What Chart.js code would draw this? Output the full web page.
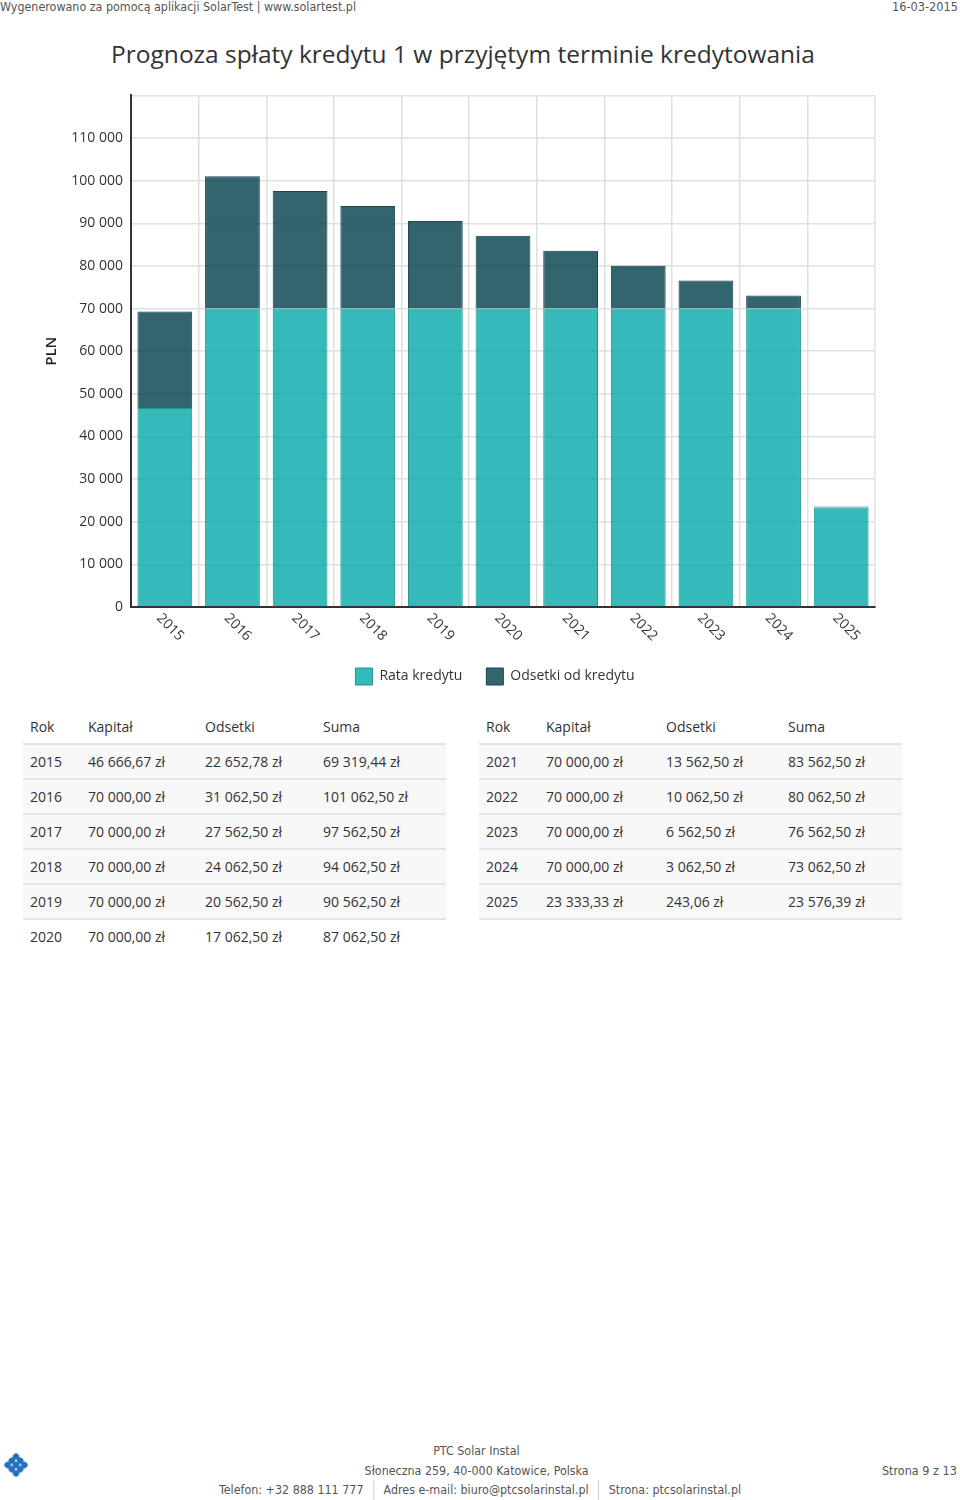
<!DOCTYPE html>
<html lang="pl">
<head>
    <meta charset="UTF-8">
    <title>Prognoza spłaty kredytu</title>
    <script src="https://cdn.jsdelivr.net/npm/chart.js@4.4.1/dist/chart.umd.min.js"></script>
    <style>
        body { margin: 0; width: 960px; height: 1500px; position: relative; background: #fff; font-family: 'Open Sans', sans-serif; color: #333; overflow: hidden; }
        .hdr { position: absolute; top: -1px; font-family: 'DejaVu Sans Condensed', 'Open Sans', sans-serif; font-size: 13px; color: #555; white-space: nowrap; }
        h1 { position: absolute; top: 37px; left: 0; width: 926px; margin: 0; text-align: center; font-weight: normal; font-size: 24.5px; color: #333; }
        #wrap { position: absolute; left: 30px; top: 79px; width: 870px; height: 621px; }
        table { position: absolute; top: 710px; border-collapse: collapse; font-size: 14px; color: #333; }
        th { text-align: left; font-weight: normal; height: 33px; padding: 0 0 0 7px; border-bottom: 2px solid #e2e2e2; }
        td { height: 33px; padding: 0 0 0 7px; background: #f8f8f8; border-bottom: 2px solid #e6e6e6; }
        tr.last td { background: #fff; border-bottom: none; }
        .ft { position: absolute; display: inline-block; font-family: 'DejaVu Sans Condensed', 'Open Sans', sans-serif; font-size: 13px; color: #555; white-space: nowrap; }
        .sep { display: inline-block; width: 1px; height: 20px; background: #ccc; vertical-align: middle; margin: 0 10px; }
        .logo { position: absolute; left: 7px; top: 1456px; width: 18px; height: 18px; transform: rotate(45deg);
                background: radial-gradient(circle, #1f6fc0 2.6px, #a9c8ea 3.4px) 0 0 / 6px 6px; }
    </style>
</head>
<body>
    <div class="hdr" id="hl" style="left:0">Wygenerowano za pomocą aplikacji SolarTest | www.solartest.pl</div>
    <div class="hdr" id="hr" style="right:2px">16-03-2015</div>
    <h1>Prognoza spłaty kredytu 1 w przyjętym terminie kredytowania</h1>

    <div id="wrap"><canvas id="myChart"></canvas></div>

    <table id="tabL" style="left:23px;width:423px"></table>
    <table id="tabR" style="left:479px;width:423px"></table>

    <div class="logo"></div>
    <div class="ft" data-c="476" style="top:1443px">PTC Solar Instal</div>
    <div class="ft" data-c="476.5" style="top:1463px">Słoneczna 259, 40-000 Katowice, Polska</div>
    <div class="ft" data-c="480" style="top:1480px">Telefon: +32 888 111 777<span class="sep"></span>Adres e-mail: biuro@ptcsolarinstal.pl<span class="sep"></span>Strona: ptcsolarinstal.pl</div>
    <div class="ft" id="page" style="right:3px;top:1463px">Strona 9 z 13</div>
</body>
<script>
    const years = ['2015', '2016', '2017', '2018', '2019', '2020', '2021', '2022', '2023', '2024', '2025']
    const kapital = [46666.67, 70000, 70000, 70000, 70000, 70000, 70000, 70000, 70000, 70000, 23333.33]
    const odsetki = [22652.78, 31062.50, 27562.50, 24062.50, 20562.50, 17062.50, 13562.50, 10062.50, 6562.50, 3062.50, 243.06]
    const suma = [69319.44, 101062.50, 97562.50, 94062.50, 90562.50, 87062.50, 83562.50, 80062.50, 76562.50, 73062.50, 23576.39]

    const fmt = (v, dec) => {
        let s = v.toFixed(dec)
        let parts = s.split('.')
        parts[0] = parts[0].replace(/\B(?=(\d{3})+(?!\d))/g, ' ')
        return parts.join(',')
    }
    const zl = v => fmt(v, 2) + ' zł'

    // tables
    function buildTable(id, from, to, w) {
        let html = '<tr><th style="width:' + w[0] + 'px">Rok</th><th style="width:' + w[1] + 'px">Kapitał</th><th style="width:' + w[2] + 'px">Odsetki</th><th>Suma</th></tr>'
        for (let i = from; i < to; i++) {
            let cls = (id === 'tabL' && i === to - 1) ? ' class="last"' : ''
            html += '<tr' + cls + '><td>' + years[i] + '</td><td>' + zl(kapital[i]) + '</td><td>' + zl(odsetki[i]) + '</td><td>' + zl(suma[i]) + '</td></tr>'
        }
        document.getElementById(id).innerHTML = html
    }
    buildTable('tabL', 0, 6, [51, 110, 111])
    buildTable('tabR', 6, 11, [53, 113, 115])

    // squeeze header / footer text to the narrow look of the original
    function fitWidth(el, target) {
        let w = el.getBoundingClientRect().width
        if (w > target) {
            el.style.transform = 'scaleX(' + (target / w) + ')'
            el.style.transformOrigin = el.style.right ? 'right top' : 'left top'
        }
    }
    fitWidth(document.getElementById('hl'), 356)
    fitWidth(document.getElementById('hr'), 66)
    fitWidth(document.getElementById('page'), 75)

    const ftLines = [...document.querySelectorAll('.ft[data-c]')]
    const ftScale = Math.min(1, 522 / ftLines[2].offsetWidth)
    ftLines.forEach(el => {
        let w = el.offsetWidth
        el.style.left = (parseFloat(el.dataset.c) - w / 2) + 'px'
        el.style.transformOrigin = 'center top'
        el.style.transform = 'scaleX(' + ftScale + ')'
    })

    // rotated year labels under the bars
    const xLabels = {
        id: 'xLabels',
        afterDraw(chart) {
            const sc = chart.scales.x
            const ctx = chart.ctx
            ctx.save()
            ctx.font = '14px "Open Sans"'
            ctx.fillStyle = '#333'
            ctx.textAlign = 'left'
            ctx.textBaseline = 'middle'
            sc.ticks.forEach((t, i) => {
                ctx.save()
                ctx.translate(sc.getPixelForTick(i) - 6, sc.top + 9)
                ctx.rotate(Math.PI / 4)
                ctx.fillText(years[i], 0, 0)
                ctx.restore()
            })
            ctx.restore()
        }
    }

    // legend sits a little left of the plot centre in the original
    const legendShift = {
        id: 'legendShift',
        afterLayout(chart) {
            if (chart.legend) {
                chart.legend.left -= 8
                chart.legend.right -= 8
            }
        }
    }

    Chart.defaults.font.family = '"Open Sans", sans-serif'
    Chart.defaults.color = '#333'

    let ctx = document.getElementById('myChart').getContext('2d')
    let chart = new Chart(ctx, {
        type: 'bar',
        data: {
            labels: years,
            datasets: [{
                label: 'Rata kredytu',
                data: kapital,
                backgroundColor: 'rgba(4, 167, 167, 0.8)',
                borderColor: '#23978f',
                borderWidth: 1,
                barPercentage: 0.81,
                categoryPercentage: 1
            }, {
                label: 'Odsetki od kredytu',
                data: odsetki,
                backgroundColor: 'rgba(0, 62, 75, 0.8)',
                borderColor: '#1c4750',
                borderWidth: 1,
                barPercentage: 0.81,
                categoryPercentage: 1
            }]
        },
        plugins: [xLabels, legendShift],
        options: {
            responsive: true,
            maintainAspectRatio: false,
            animation: false,
            layout: { padding: { top: 4, left: 9, right: 25, bottom: 5 } },
            scales: {
                x: {
                    stacked: true,
                    ticks: { display: false },
                    grid: { offset: true, color: '#e0e0e0', lineWidth: 1.5, drawTicks: false },
                    border: { color: '#333', width: 2 },
                    afterFit: s => { s.height = 37 }
                },
                y: {
                    stacked: true,
                    min: 0,
                    max: 120000,
                    ticks: {
                        stepSize: 10000,
                        padding: 8,
                        font: { size: 14 },
                        callback: v => v >= 120000 ? '' : fmt(v, 0)
                    },
                    grid: { color: '#e0e0e0', lineWidth: 1.5, drawTicks: false },
                    border: { color: '#333', width: 2 },
                    title: { display: true, text: 'PLN', font: { size: 15, weight: '600' }, color: '#222' },
                    afterFit: s => { s.width = 92 }
                }
            },
            plugins: {
                legend: {
                    position: 'bottom',
                    fullSize: false,
                    labels: {
                        boxWidth: 17,
                        boxHeight: 17,
                        padding: 24,
                        color: '#333',
                        font: { size: 14 }
                    }
                },
                tooltip: { enabled: false }
            }
        }
    })
</script>
</html>
